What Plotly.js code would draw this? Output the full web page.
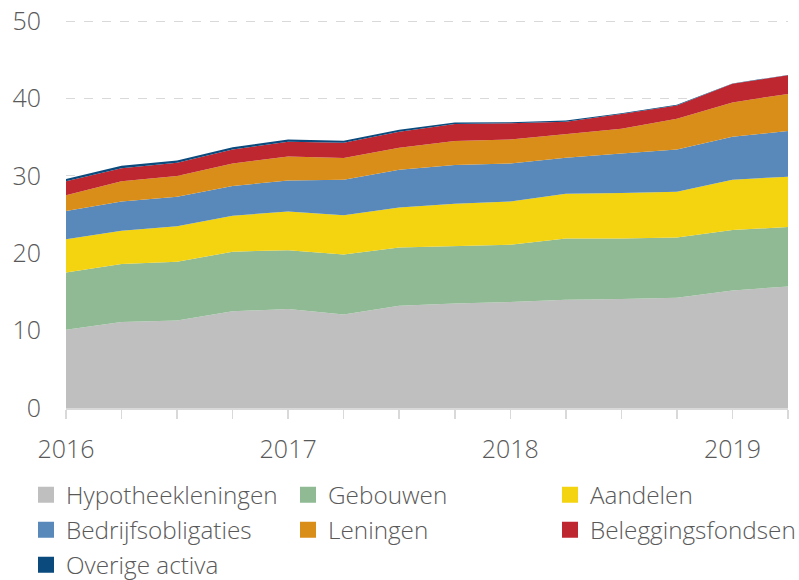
<!DOCTYPE html>
<html>
<head>
<meta charset="utf-8">
<script src="https://cdn.plot.ly/plotly-3.0.1.min.js"></script>
<style>html,body{margin:0;padding:0;background:#fff;}#chart{width:799px;height:580px;}</style>
</head>
<body>
<div id="chart"></div>
<script>
const quarters = ['2016 K1','2016 K2','2016 K3','2016 K4','2017 K1','2017 K2','2017 K3','2017 K4','2018 K1','2018 K2','2018 K3','2018 K4','2019 K1','2019 K2'];
const tickLabels = ['2016','','','','2017','','','','2018','','','','2019',''];
const seriesNames = ['Hypotheekleningen','Gebouwen','Aandelen','Bedrijfsobligaties','Leningen','Beleggingsfondsen','Overige activa'];
const hypotheekleningen = [10.1, 11.1, 11.3, 12.5, 12.8, 12.1, 13.2, 13.5, 13.7, 14.0, 14.1, 14.25, 15.2, 15.7];
const gebouwen = [7.4, 7.5, 7.6, 7.7, 7.6, 7.75, 7.55, 7.47, 7.4, 7.9, 7.8, 7.8, 7.8, 7.7];
const aandelen = [4.3, 4.3, 4.6, 4.65, 5.0, 5.05, 5.15, 5.43, 5.6, 5.8, 5.9, 5.9, 6.5, 6.5];
const bedrijfsobligaties = [3.65, 3.8, 3.8, 3.85, 4.0, 4.6, 4.9, 5.0, 4.9, 4.65, 5.1, 5.45, 5.55, 5.9];
const leningen = [2.05, 2.6, 2.7, 2.9, 3.1, 2.8, 2.85, 3.1, 3.1, 3.05, 3.2, 4.0, 4.45, 4.8];
const beleggingsfondsen = [1.8, 1.7, 1.7, 1.8, 1.9, 2.0, 2.05, 2.2, 2.1, 1.6, 1.9, 1.7, 2.4, 2.4];
const overigeActiva = [0.3, 0.3, 0.3, 0.3, 0.3, 0.25, 0.25, 0.2, 0.15, 0.15, 0.1, 0.1, 0.05, 0.05];
const colors = ['#bfbfbf','#8fba93','#f4d311','#5889ba','#da8e1a','#bf2730','#0b4a7c'];
const allSeries = [hypotheekleningen, gebouwen, aandelen, bedrijfsobligaties, leningen, beleggingsfondsen, overigeActiva];

const FONT = 'Open Sans, sans-serif';
const TXT = '#595959';
const plotTop = 20, plotBottom = 408, plotLeft = 66, plotRight = 788, W = 799, H = 580;

// legend grid: 3 columns, filled row by row
const colLeftPx = [26, 288, 550];
const rowMidPx = [495, 530, 565];
const legendKey = (i) => i === 0 ? 'legend' : 'legend' + (i + 1);

const traces = [];
allSeries.forEach((vals, i) => {
  traces.push({
    type: 'scatter', mode: 'lines', x: quarters, y: vals,
    stackgroup: 'one', name: seriesNames[i],
    line: {width: 0, color: colors[i]}, fillcolor: colors[i],
    showlegend: false, hoverinfo: 'skip'
  });
});
allSeries.forEach((vals, i) => {
  traces.push({
    type: 'scatter', mode: 'markers', x: [null], y: [null], name: seriesNames[i],
    marker: {symbol: 'square', size: 17, color: colors[i]}, showlegend: true,
    legend: legendKey(i)
  });
});

const layout = {
  width: W, height: H,
  margin: {l: plotLeft, r: W - plotRight, t: plotTop, b: H - plotBottom, autoexpand: false},
  paper_bgcolor: '#fff', plot_bgcolor: '#fff',
  font: {family: FONT, color: TXT, weight: 300},
  xaxis: {
    type: 'category', range: [0, quarters.length - 1],
    tickmode: 'array', tickvals: quarters, ticktext: tickLabels,
    ticks: 'outside', ticklen: 9, tickwidth: 1.5, tickcolor: '#d9d9d9',
    showline: true, linecolor: '#d9d9d9', linewidth: 2,
    showgrid: false, zeroline: false,
    tickfont: {family: FONT, size: 25, color: TXT, weight: 300},
    ticklabelstandoff: 9
  },
  yaxis: {
    range: [0, 50.15], tickvals: [0, 10, 20, 30, 40, 50],
    showgrid: true, gridcolor: '#d9d9d9', griddash: 'dash', gridwidth: 1,
    zeroline: false, showline: false, ticks: '',
    tickfont: {family: FONT, size: 25, color: TXT, weight: 300},
    ticklabelstandoff: 24
  },
  showlegend: true
};

seriesNames.forEach((n, i) => {
  const col = i % 3, row = Math.floor(i / 3);
  layout[legendKey(i)] = {
    orientation: 'v', xref: 'paper', yref: 'paper',
    x: (colLeftPx[col] - plotLeft) / (plotRight - plotLeft), xanchor: 'left',
    y: (plotBottom - rowMidPx[row]) / (plotBottom - plotTop), yanchor: 'middle',
    font: {family: FONT, size: 24.3, color: TXT, weight: 300},
    itemwidth: 30, bgcolor: 'rgba(0,0,0,0)', borderwidth: 0
  };
});

Plotly.newPlot('chart', traces, layout, {staticPlot: true, displayModeBar: false});
</script>
</body>
</html>
